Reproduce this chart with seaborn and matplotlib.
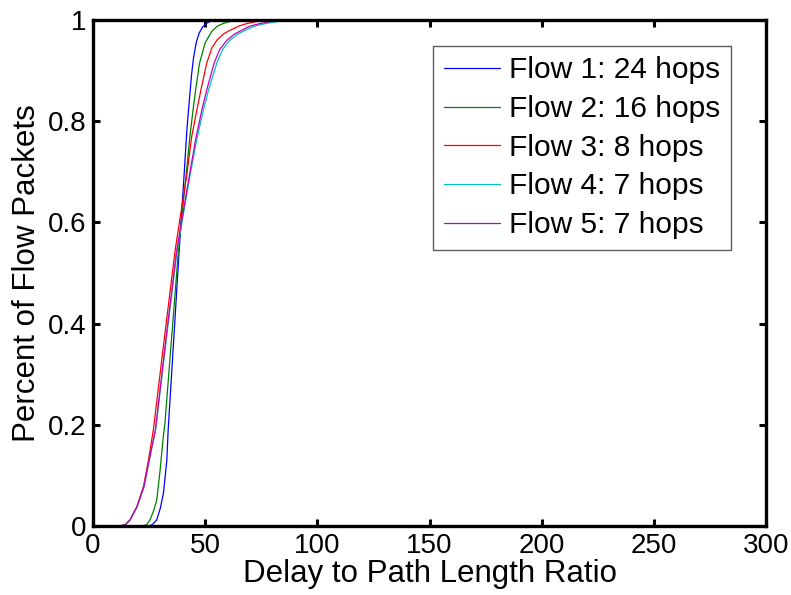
import numpy as np
import pandas as pd
import seaborn as sns
import matplotlib
matplotlib.use("Agg")
from matplotlib import pyplot as plt

# CDF points (delay ratio, fraction of packets)
flow1_x = [0, 25.0, 26.5, 28.4, 30.0, 31.4, 32.9, 33.5, 36.0, 38.4, 40.6, 41.8, 42.9, 44.0, 44.8,
           46.0, 47.3, 48.8, 50.5, 52.5, 55, 300]
flow1_y = [0, 0, 0.003, 0.012, 0.035, 0.065, 0.13, 0.19, 0.37, 0.545, 0.694, 0.78, 0.84, 0.895, 0.925,
           0.955, 0.974, 0.986, 0.993, 0.998, 1, 1]

flow2_x = [0, 22.5, 24.0, 25.4, 27.0, 28.4, 29.9, 31.3, 32.0, 35.0, 38.1, 41.5, 43.2, 44.8, 46.0,
           47.5, 50.0, 53.0, 55.5, 58.0, 61.0, 65, 300]
flow2_y = [0, 0, 0.003, 0.012, 0.03, 0.051, 0.11, 0.176, 0.2, 0.37, 0.545, 0.694, 0.77, 0.83, 0.87,
           0.915, 0.955, 0.978, 0.988, 0.993, 0.997, 1, 1]

flow3_x = [0, 12, 14.5, 16.5, 19.5, 22.5, 24.7, 26.9, 31.5, 36.6, 41.8, 44.0, 46.3, 48.1, 50.7,
           53.0, 55.2, 58.0, 61.2, 65.0, 68.6, 73.0, 78, 300]
flow3_y = [0, 0, 0.003, 0.012, 0.038, 0.078, 0.13, 0.19, 0.36, 0.545, 0.694, 0.77, 0.822, 0.862, 0.915,
           0.945, 0.96, 0.972, 0.98, 0.988, 0.993, 0.997, 1, 1]

flow4_x = [0, 12, 14.6, 16.6, 19.7, 22.8, 25.1, 27.9, 32.7, 37.5, 43.3, 46.3, 49.2, 51.5, 55.2,
           57.8, 61.0, 64.5, 68.0, 72.0, 77.0, 82.0, 88, 300]
flow4_y = [0, 0, 0.003, 0.012, 0.038, 0.078, 0.13, 0.19, 0.37, 0.545, 0.694, 0.765, 0.822, 0.862, 0.915,
           0.942, 0.96, 0.972, 0.98, 0.988, 0.993, 0.997, 1, 1]

flow5_x = [0, 12, 14.5, 16.5, 19.6, 22.7, 25.0, 27.8, 32.5, 37.3, 43.0, 45.8, 48.5, 50.7, 54.0,
           56.5, 59.7, 63.0, 66.4, 70.0, 74.5, 79.0, 85, 300]
flow5_y = [0, 0, 0.003, 0.012, 0.038, 0.078, 0.13, 0.19, 0.37, 0.545, 0.694, 0.765, 0.822, 0.862, 0.915,
           0.942, 0.96, 0.972, 0.98, 0.988, 0.993, 0.997, 1, 1]

flow_names = ["Flow 1: 24 hops", "Flow 2: 16 hops", "Flow 3: 8 hops",
              "Flow 4: 7 hops", "Flow 5: 7 hops"]
flow_colors = ["#0000ff", "#008000", "#ff0000", "#00bfbf", "#bf00bf"]

x_ticks = [0, 50, 100, 150, 200, 250, 300]
y_ticks = [0, 0.2, 0.4, 0.6, 0.8, 1]
y_tick_labels = ["0", "0.2", "0.4", "0.6", "0.8", "1"]

frames = []
for name, xs, ys in zip(flow_names,
                        [flow1_x, flow2_x, flow3_x, flow4_x, flow5_x],
                        [flow1_y, flow2_y, flow3_y, flow4_y, flow5_y]):
    frames.append(pd.DataFrame({"ratio": xs, "frac": ys, "flow": name}))
df = pd.concat(frames, ignore_index=True)

sns.set_style("white")
plt.rcParams['font.family'] = ['Liberation Sans', 'DejaVu Sans']
for key in ['text.color', 'axes.labelcolor', 'xtick.color', 'ytick.color']:
    plt.rcParams[key] = 'black'

fig = plt.figure(figsize=(7.91, 5.95), dpi=100)
ax = fig.add_axes([0.1176, 0.116, 0.8508, 0.8504])

sns.lineplot(data=df, x="ratio", y="frac", hue="flow", hue_order=flow_names,
             palette=flow_colors, estimator=None, sort=False, linewidth=0.9,
             ax=ax)

ax.set_xlim(0, 300)
ax.set_ylim(0, 1)
ax.set_xticks(x_ticks)
ax.set_yticks(y_ticks)
ax.set_yticklabels(y_tick_labels)
ax.tick_params(direction="in", length=5, width=2.2, labelsize=20,
               top=True, right=True, bottom=True, left=True, pad=5)
for sp in ax.spines.values():
    sp.set_linewidth(2.4)
    sp.set_color("black")

ax.set_xlabel("Delay to Path Length Ratio", fontsize=22.5, labelpad=0)
ax.set_ylabel("Percent of Flow Packets", fontsize=22.5, labelpad=4)

leg = ax.legend(loc="upper right", bbox_to_anchor=(0.948, 0.949), fontsize=21.5,
                frameon=True, fancybox=False, handlelength=1.9, borderaxespad=0,
                borderpad=0.35, labelspacing=0.36, handletextpad=0.3)
leg.get_frame().set_edgecolor("#333333")
leg.get_frame().set_linewidth(1.0)

fig.savefig("out.png", dpi=100)
